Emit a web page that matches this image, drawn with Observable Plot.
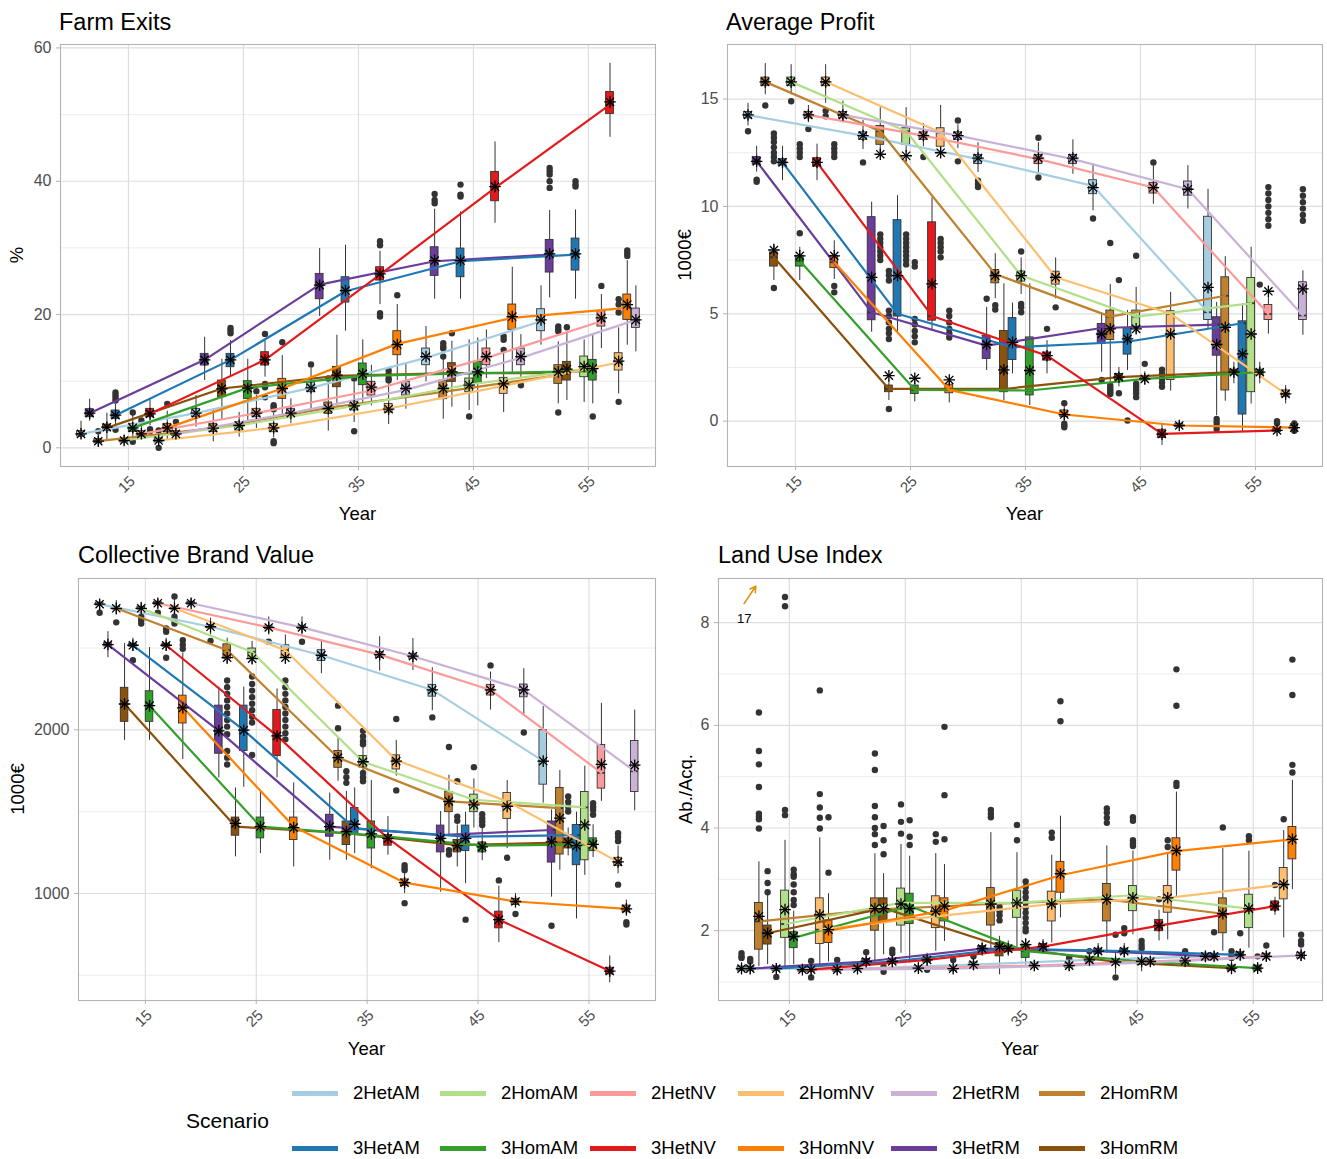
<!DOCTYPE html>
<html>
<head>
<meta charset="utf-8">
<script src="https://cdn.jsdelivr.net/npm/d3@7"></script>
<script src="https://cdn.jsdelivr.net/npm/@observablehq/plot@0.6"></script>
<style>
  html, body { margin: 0; padding: 0; background: #fff; }
  #root { position: relative; width: 1327px; height: 1159px; overflow: hidden; font-family: "Liberation Sans", Arial, sans-serif; color: #000; }
  .t { position: absolute; white-space: nowrap; }
  .title { font-size: 23.5px; line-height: 23.5px; }
  .axt { font-size: 18.5px; line-height: 18.5px; }
  .ylab { transform: translate(-50%, -50%) rotate(-90deg); }
  .xlab { transform: translateX(-50%); }
  .plotbox { position: absolute; }
  .sw { position: absolute; width: 46px; height: 5px; }
  .lt { position: absolute; font-size: 18.5px; line-height: 18.5px; white-space: nowrap; }
</style>
</head>
<body>
<div id="root">
  <div class="t title" style="left:59px;top:10.5px">Farm Exits</div>
  <div class="t title" style="left:726px;top:10.5px">Average Profit</div>
  <div class="t title" style="left:78px;top:544px">Collective Brand Value</div>
  <div class="t title" style="left:718px;top:544px">Land Use Index</div>
  <div class="t axt xlab" style="left:357.5px;top:505px">Year</div>
  <div class="t axt xlab" style="left:1024.5px;top:505px">Year</div>
  <div class="t axt xlab" style="left:366.5px;top:1040px">Year</div>
  <div class="t axt xlab" style="left:1020px;top:1040px">Year</div>
  <div class="t axt ylab" style="left:17px;top:255px">%</div>
  <div class="t axt ylab" style="left:685px;top:255px">1000€</div>
  <div class="t axt ylab" style="left:18px;top:789px">1000€</div>
  <div class="t axt ylab" style="left:686px;top:789px">Ab./Acq.</div>
  <div class="t" style="left:186px;top:1110px;font-size:21px;line-height:21px">Scenario</div>
</div>
<script>
// ---------------- data ----------------
const scenarios = ["2HetAM","2HomAM","2HetNV","2HomNV","2HetRM","2HomRM","3HetAM","3HomAM","3HetNV","3HomNV","3HetRM","3HomRM"];
const scenarioColors = ["#A6CEE3","#B2DF8A","#FB9A99","#FDBF6F","#CAB2D6","#BF812D","#1F78B4","#33A02C","#E31A1C","#FF7F00","#6A3D9A","#8C510A"];
const dodgeOrder = ["2HetAM","3HetRM","2HomRM","3HomRM","3HetAM","2HomAM","3HomAM","2HetNV","3HetNV","2HomNV","3HomNV","2HetRM"];
const yearTicks = [15, 25, 35, 45, 55];

const exitsTicks = [0, 20, 40, 60];
const exitsMinor = [10, 30, 50];
const profitTicks = [0, 5, 10, 15];
const profitMinor = [2.5, 7.5, 12.5];
const brandTicks = [1000, 2000];
const brandMinor = [500, 1500, 2500];
const landTicks = [2, 4, 6, 8];
const landMinor = [1, 3, 5, 7];

// [scenario, year, whiskerLow, q1, median, q3, whiskerHigh, mean]
const exitsBoxes = [
  ["2HetAM",15,1.3,1.7,2.1,2.5,4.0,2.1],["3HetRM",15,4.0,4.6,5.2,5.8,7.3,5.2],["2HomRM",15,0.3,0.7,1.0,1.3,2.0,1.0],
  ["3HomRM",15,1.2,2.5,3.0,3.5,5.2,3.1],["3HetAM",15,3.5,4.35,4.9,5.6,6.5,4.9],["2HomAM",15,0.4,0.8,1.1,1.4,1.9,1.1],
  ["3HomAM",15,1.1,2.4,3.0,3.6,4.9,3.0],["2HetNV",15,1.4,1.8,2.1,2.5,3.4,2.1],["3HetNV",15,3.3,4.6,5.1,5.85,7.3,5.1],
  ["2HomNV",15,0.4,0.8,1.1,1.4,2.0,1.1],["3HomNV",15,1.2,2.4,3.0,3.6,5.5,3.0],["2HetRM",15,1.4,1.8,2.1,2.5,3.5,2.1],
  ["2HetAM",25,3.1,4.6,5.2,5.85,7.85,5.2],["3HetRM",25,10.1,12.35,13.2,14.1,16.6,13.2],["2HomRM",25,0.9,2.35,2.95,3.6,5.8,2.95],
  ["3HomRM",25,4.1,7.6,8.9,10.1,13.3,8.85],["3HetAM",25,10.6,12.1,13.2,14.1,16.1,13.2],["2HomAM",25,1.6,2.6,3.35,3.85,5.3,3.35],
  ["3HomAM",25,4.1,7.35,9.0,10.0,13.3,8.95],["2HetNV",25,2.9,4.6,5.2,5.85,7.85,5.2],["3HetNV",25,10.6,12.35,13.2,14.35,16.2,13.2],
  ["2HomNV",25,1.5,2.35,3.0,3.6,5.2,3.0],["3HomNV",25,4.35,7.35,8.9,10.35,13.85,8.9],["2HetRM",25,3.6,4.6,5.2,5.85,7.35,5.2],
  ["2HetAM",35,5.8,8.35,9.0,9.8,11.9,9.0],["3HetRM",35,19.7,22.3,24.5,26.1,29.9,24.4],["2HomRM",35,2.5,5.1,6.0,6.8,9.8,5.9],
  ["3HomRM",35,6.3,9.1,10.8,12.15,16.9,10.9],["3HetAM",35,17.5,21.8,23.5,25.6,30.4,23.6],["2HomAM",35,3.8,5.6,6.3,6.9,9.8,6.3],
  ["3HomAM",35,6.6,9.4,10.8,12.65,16.2,11.1],["2HetNV",35,6.3,7.85,8.6,9.9,12.4,9.1],["3HetNV",35,21.5,25.1,26.0,27.1,29.5,26.1],
  ["2HomNV",35,3.5,5.3,5.9,6.6,9.5,5.8],["3HomNV",35,10.1,13.9,15.6,17.5,21.5,15.5],["2HetRM",35,5.8,7.85,8.7,9.9,12.5,8.9],
  ["2HetAM",45,9.9,12.4,13.5,14.9,18.2,13.7],["3HetRM",45,22.3,25.8,28.0,30.1,35.8,28.1],["2HomRM",45,4.3,7.3,8.4,10.1,13.3,8.9],
  ["3HomRM",45,6.1,9.9,11.2,12.7,16.0,11.4],["3HetAM",45,22.3,25.6,28.0,29.9,35.4,28.1],["2HomAM",45,5.6,8.35,9.5,10.4,16.2,9.4],
  ["3HomAM",45,6.3,9.6,11.2,12.9,16.5,11.4],["2HetNV",45,10.4,12.4,13.5,14.9,17.7,13.7],["3HetNV",45,33.7,37.0,39.0,41.4,45.9,39.2],
  ["2HomNV",45,5.3,8.1,9.3,10.5,14.4,9.6],["3HomNV",45,11.1,17.7,19.5,21.5,27.1,19.7],["2HetRM",45,10.4,12.4,13.5,14.9,17.0,13.7],
  ["2HetAM",55,15.4,17.5,19.0,20.8,24.3,19.2],["3HetRM",55,22.5,26.3,29.0,31.2,35.6,29.1],["2HomRM",55,6.6,9.6,10.9,12.4,15.9,11.4],
  ["3HomRM",55,7.1,10.1,11.2,12.9,17.2,11.8],["3HetAM",55,22.3,26.6,29.0,31.4,35.7,29.1],["2HomAM",55,6.8,10.6,11.8,13.7,16.2,12.2],
  ["3HomAM",55,6.6,10.1,11.5,13.2,17.0,11.9],["2HetNV",55,14.9,18.2,19.0,20.5,23.0,19.5],["3HetNV",55,46.6,50.1,51.5,53.4,57.7,51.9],
  ["2HomNV",55,8.1,11.6,12.8,14.2,18.0,13.0],["3HomNV",55,15.4,19.2,21.0,23.0,28.1,21.5],["2HetRM",55,14.4,18.0,19.2,20.9,24.3,19.2]
];
// [scenario, year, ...outliers]
const exitsOutliers = [
  ["2HomRM",15,2.5],["3HetAM",15,8.3,7.9,7.5,7.1,2.7],["3HomAM",15,5.3,0.9],["2HetNV",15,4.1],["3HetNV",15,2.8,2.5],
  ["2HomNV",15,2.6,0.0],["3HomNV",15,6.6],["2HetRM",15,3.9],
  ["3HetAM",25,18.0,17.6,17.2],["2HetNV",25,8.5],["3HetNV",25,17.1,9.6,9.1,7.6],["2HomNV",25,6.4,6.1,5.8,1.0,0.7],["3HomNV",25,15.85],
  ["2HetAM",35,12.5],["2HomRM",35,10.4],["2HomAM",35,10.4,2.5],["3HetNV",35,31.0,30.4,20.2,19.7],["2HomNV",35,11.6,11.0,10.4,10.1],["3HomNV",35,22.9],
  ["3HetRM",45,38.1,37.2,36.7],["2HomRM",45,15.7,15.2,14.9,13.7],["3HomRM",45,17.2],["3HetAM",45,39.5,38.0,37.7],["2HomAM",45,4.7],
  ["2HomNV",45,16.7,16.2,14.7],["2HetRM",45,9.4],
  ["3HetRM",55,42.0,41.5,41.0,40.0,39.0],["2HomRM",55,18.2,17.8,17.5,5.3],["3HomRM",55,18.1],["3HetAM",55,40.0,39.5,39.2],
  ["3HomAM",55,4.7],["2HetNV",55,24.3],["2HomNV",55,22.3,21.5,20.3,6.9],["3HomNV",55,29.6,29.2,28.8]
];

const profitBoxes = [
  ["2HetAM",15,13.75,14.1,14.25,14.4,14.8,14.26],["3HetRM",15,11.6,11.95,12.1,12.3,12.8,12.1],["2HomRM",15,15.2,15.6,15.8,16.0,16.65,15.8],
  ["3HomRM",15,6.55,7.2,7.63,7.86,8.25,7.97],["3HetAM",15,11.2,11.9,12.05,12.2,12.8,12.05],["2HomAM",15,15.2,15.6,15.8,16.0,16.6,15.8],
  ["3HomAM",15,6.55,7.2,7.47,7.7,8.1,7.7],["2HetNV",15,13.9,14.1,14.26,14.4,14.7,14.26],["3HetNV",15,11.2,11.85,12.05,12.25,12.9,12.05],
  ["2HomNV",15,14.8,15.6,15.8,16.0,16.6,15.8],["3HomNV",15,6.6,7.13,7.4,7.7,8.4,7.7],["2HetRM",15,13.9,14.1,14.26,14.4,14.9,14.26],
  ["2HetAM",25,12.65,13.1,13.3,13.45,14.0,13.3],["3HetRM",25,4.14,4.7,5.07,9.5,10.2,6.7],["2HomRM",25,12.4,12.87,13.5,13.75,14.6,12.43],
  ["3HomRM",25,0.96,1.35,1.5,1.66,1.9,2.12],["3HetAM",25,4.06,4.87,5.0,9.36,10.5,6.78],["2HomAM",25,12.5,12.87,13.5,13.64,14.6,12.36],
  ["3HomAM",25,0.9,1.27,1.46,1.66,1.95,2.0],["2HetNV",25,12.78,13.1,13.3,13.45,13.86,13.3],["3HetNV",25,4.2,4.68,4.9,9.26,10.4,6.39],
  ["2HomNV",25,12.6,12.78,13.44,13.64,14.7,12.5],["3HomNV",25,0.85,1.3,1.46,1.7,1.95,1.92],["2HetRM",25,12.7,13.1,13.3,13.45,13.8,13.3],
  ["2HetAM",35,11.58,11.97,12.2,12.4,12.97,12.25],["3HetRM",35,2.36,2.9,3.52,3.98,5.3,3.57],["2HomRM",35,5.7,6.42,6.85,7.04,7.8,6.78],
  ["3HomRM",35,0.96,1.35,1.5,4.2,6.4,2.39],["3HetAM",35,2.2,2.85,3.44,4.8,5.5,3.67],["2HomAM",35,5.9,6.5,6.78,6.97,7.6,6.78],
  ["3HomAM",35,0.73,1.2,1.43,3.9,6.4,2.36],["2HetNV",35,11.58,11.97,12.2,12.4,12.97,12.25],["3HetNV",35,2.2,2.82,3.05,3.2,3.75,3.05],
  ["2HomNV",35,5.7,6.36,6.7,6.96,7.6,6.7],["3HomNV",35,0.0,0.19,0.31,0.5,0.7,0.31],["2HetRM",35,11.5,11.97,12.2,12.4,13.1,12.25],
  ["2HetAM",45,9.8,10.57,10.96,11.22,12.0,10.88],["3HetRM",45,2.28,3.6,4.34,4.53,5.0,4.06],["2HomRM",45,1.75,3.78,4.87,5.15,6.36,4.3],
  ["3HomRM",45,1.6,1.9,2.05,2.2,2.5,2.05],["3HetAM",45,2.36,3.1,3.7,4.34,5.15,3.83],["2HomAM",45,4.06,4.34,4.87,5.15,6.23,4.3],
  ["3HomAM",45,1.7,1.9,1.97,2.05,2.3,1.97],["2HetNV",45,10.1,10.6,10.88,11.1,11.9,10.88],["3HetNV",45,-1.13,-0.78,-0.59,-0.4,-0.12,-0.6],
  ["2HomNV",45,1.4,1.92,5.0,5.12,6.0,4.06],["3HomNV",45,-0.35,-0.28,-0.2,-0.12,-0.05,-0.2],["2HetRM",45,9.88,10.5,10.8,11.16,11.9,10.8],
  ["2HetAM",55,4.3,4.71,5.07,9.52,10.8,6.23],["3HetRM",55,0.26,3.05,4.5,4.84,5.53,3.57],["2HomRM",55,0.93,1.43,5.84,6.7,7.66,4.37],
  ["3HomRM",55,1.74,2.15,2.28,2.4,2.74,2.28],["3HetAM",55,-0.47,0.31,4.56,4.65,5.46,3.13],["2HomAM",55,0.8,1.35,5.49,6.67,8.1,4.06],
  ["3HomAM",55,1.74,2.15,2.28,2.4,2.74,2.28],["2HetNV",55,4.06,4.71,4.99,5.41,5.77,6.05],["3HetNV",55,-0.55,-0.5,-0.43,-0.35,-0.3,-0.43],
  ["2HomNV",55,0.8,1.12,1.27,1.43,1.66,1.27],["3HomNV",55,-0.45,-0.38,-0.3,-0.22,-0.15,-0.3],["2HetRM",55,4.0,4.71,4.92,6.47,7.0,6.16]
];
const profitOutliers = [
  ["2HetAM",15,13.5],["3HetRM",15,11.25,11.15],["2HomRM",15,14.7],["3HomRM",15,13.4,13.2,13.0,12.75,12.5,12.3,12.1,6.2],
  ["2HomAM",15,14.9],["3HomAM",15,8.75,12.9,12.7,12.5,12.3],["2HetNV",15,13.6],["2HomNV",15,14.45,14.2],
  ["3HomNV",15,6.3,6.0,12.9,12.7,12.5,12.3],
  ["2HetAM",25,12.05],["2HomRM",25,8.7,8.5,8.3,8.1,7.9,7.7,7.5],["3HomRM",25,0.57,7.0,6.8,6.55,5.15,4.9,4.6,4.3,4.1,3.83],
  ["2HomAM",25,8.7,8.5,8.3,8.1,7.9,7.7,7.5,7.3],["3HomAM",25,7.4,7.2,4.76,4.5,4.2,3.95,3.67],["2HetNV",25,12.3],
  ["2HomNV",25,8.48,8.3,8.1,7.9,7.63],["3HomNV",25,5.15,4.9,4.6,4.3,4.1,3.9],["2HetRM",25,14.0,12.1],
  ["2HetAM",35,11.2,11.05,10.9],["3HetRM",35,5.7],["2HomRM",35,5.4,5.2],["2HomAM",35,7.9,5.46,5.3,5.07],
  ["2HetNV",35,13.2,11.35],["3HetNV",35,4.3],["2HomNV",35,5.3],["3HomNV",35,0.84,-0.12,-0.2,-0.28],
  ["2HetAM",45,9.44],["3HetRM",45,1.92],["2HomRM",45,8.3,1.66,1.55,1.45,1.35,1.27],["3HomRM",45,6.57,1.3],["3HetAM",45,0.03],
  ["2HomAM",45,7.7,1.74,1.6,1.45,1.3,1.12],["3HomAM",45,2.67],["2HetNV",45,12.05],["3HetNV",45,2.4,2.2,2.0,1.8,1.6],
  ["3HetRM",55,0.1,-0.05,-0.2,-0.36],["3HomAM",55,6.36],["2HetNV",55,10.9,10.6,10.3,10.0,9.7,9.4,9.1],["3HetNV",55,0.0,-0.1],
  ["3HomNV",55,-0.1,-0.45],["2HetRM",55,10.8,10.5,10.2,9.9,9.6,9.33]
];

const brandBoxes = [
  ["2HetAM",15,2740,2760,2768,2778,2795,2768],["3HetRM",15,2441,2510,2521,2532,2600,2521],["2HomRM",15,2700,2735,2743,2752,2790,2743],
  ["3HomRM",15,1936,2049,2158,2257,2528,2158],["3HetAM",15,2480,2508,2517,2527,2560,2517],["2HomAM",15,2700,2735,2743,2752,2780,2743],
  ["3HomAM",15,1936,2049,2148,2236,2503,2148],["2HetNV",15,2745,2765,2774,2783,2795,2774],["3HetNV",15,2480,2508,2517,2527,2560,2517],
  ["2HomNV",15,2700,2735,2743,2752,2800,2743],["3HomNV",15,1819,2039,2138,2209,2470,2134],["2HetRM",15,2750,2765,2774,2783,2800,2774],
  ["2HetAM",25,2579,2620,2630,2640,2682,2630],["3HetRM",25,1706,1854,1994,2148,2261,1994],["2HomRM",25,2400,2435,2487,2523,2560,2441],
  ["3HomRM",25,1224,1353,1409,1464,1645,1429],["3HetAM",25,1649,1871,1998,2148,2261,1998],["2HomAM",25,2400,2435,2476,2497,2540,2435],
  ["3HomAM",25,1244,1337,1409,1464,1620,1409],["2HetNV",25,2579,2615,2626,2636,2690,2626],["3HetNV",25,1706,1840,1963,2121,2250,1963],
  ["2HomNV",25,2400,2441,2487,2517,2580,2441],["3HomNV",25,1162,1327,1409,1464,1676,1403],["2HetRM",25,2579,2615,2626,2636,2690,2626],
  ["2HetAM",35,2343,2421,2456,2487,2544,2456],["3HetRM",35,1203,1347,1409,1481,1614,1409],["2HomRM",35,1686,1768,1830,1871,1953,1830],
  ["3HomRM",35,1203,1296,1368,1440,1624,1378],["3HetAM",35,1244,1357,1398,1522,1645,1423],["2HomAM",35,1745,1770,1805,1840,1900,1805],
  ["3HomAM",35,1152,1275,1357,1440,1690,1364],["2HetNV",35,2359,2440,2460,2475,2569,2460],["3HetNV",35,1234,1292,1337,1357,1470,1337],
  ["2HomNV",35,1717,1758,1815,1844,1936,1809],["3HomNV",35,1000,1045,1066,1086,1120,1066],["2HetRM",35,2363,2435,2450,2465,2558,2450],
  ["2HetAM",45,2117,2203,2244,2275,2380,2244],["3HetRM",45,1008,1251,1357,1415,1501,1337],["2HomRM",45,1357,1497,1563,1620,1723,1563],
  ["3HomRM",45,1162,1251,1296,1327,1419,1292],["3HetAM",45,1060,1259,1347,1415,1497,1337],["2HomAM",45,1400,1497,1573,1604,1700,1542],
  ["3HomAM",45,1200,1251,1292,1312,1400,1285],["2HetNV",45,2121,2210,2244,2275,2353,2244],["3HetNV",45,700,787,840,889,1045,840],
  ["2HomNV",45,1275,1456,1563,1614,1690,1532],["3HomNV",45,910,930,951,967,1000,951],["2HetRM",45,2092,2199,2244,2277,2374,2244],
  ["2HetAM",55,1552,1665,1809,1998,2142,1809],["3HetRM",55,978,1189,1388,1440,1511,1316],["2HomRM",55,1142,1238,1522,1645,1752,1460],
  ["3HomRM",55,1230,1275,1312,1337,1400,1312],["3HetAM",55,844,1173,1357,1419,1497,1292],["2HomAM",55,1111,1203,1526,1620,1778,1419],
  ["3HomAM",55,1220,1259,1300,1337,1420,1300],["2HetNV",55,1563,1641,1737,1908,2162,1789],["3HetNV",55,454,505,526,546,618,526],
  ["2HomNV",55,1120,1169,1193,1218,1290,1193],["3HomNV",55,860,885,906,926,960,906],["2HetRM",55,1505,1620,1747,1932,2121,1784]
];
const brandOutliers = [
  ["2HetAM",15,2716],["2HomRM",15,2657],["3HetAM",15,2425],["2HomAM",15,2692,2670,2650],["2HetNV",15,2716],
  ["3HetNV",15,2620,2600,2441],["2HomNV",15,2815,2692,2670,2650],["3HomNV",15,2548,2520,2495],
  ["2HetAM",25,2544],["2HomRM",25,2302,2260,2220,2180,2140,2100,2060,2020,1973,1871,1830,1788],
  ["2HomAM",25,2326,2280,2240,2200,2160,2120,2080,2045,1846],["2HetNV",25,2538],
  ["2HomNV",25,2302,2260,2220,2180,2140,2100,2060,2020,1980,1942],["2HetRM",25,2538],
  ["2HomRM",35,2148,2010],["3HomRM",35,1747,1710,1676],["2HomAM",35,1994,1960,1930,1912,1737,1710,1686],
  ["2HomNV",35,2066,1630],["3HomNV",35,1173,1155,1142,941],
  ["2HetAM",45,2076],["2HomRM",45,1895,1265,1238],["3HomRM",45,1686,1470,1444],["3HetAM",45,840],["2HomAM",45,1772],
  ["3HomAM",45,1485,1460,1440,1419],["2HetNV",45,2394],["3HetNV",45,1080],["2HomNV",45,1218],["3HomNV",45,875],["2HetRM",45,1984],
  ["3HetRM",55,803],["3HomRM",55,1593,1560,1530,1501],["3HomAM",55,1552,1530,1510,1481],["2HomNV",55,1368,1345,1320,1054],
  ["3HomNV",55,824,810]
];

const landBoxes = [
  ["2HetAM",15,1.15,1.22,1.26,1.3,1.38,1.26],["3HetRM",15,1.15,1.22,1.26,1.3,1.37,1.26],["2HomRM",15,1.3,1.63,2.18,2.54,3.34,2.28],
  ["3HomRM",15,1.34,1.73,1.95,2.1,2.7,1.95],["3HetAM",15,1.15,1.22,1.26,1.3,1.36,1.26],["2HomAM",15,1.27,1.86,2.13,2.78,3.76,2.41],
  ["3HomAM",15,1.34,1.66,1.86,1.97,2.38,1.89],["2HetNV",15,1.15,1.2,1.24,1.28,1.35,1.24],["3HetNV",15,1.15,1.2,1.24,1.28,1.35,1.24],
  ["2HomNV",15,1.3,1.74,2.02,2.63,3.81,2.31],["3HomNV",15,1.39,1.76,2.0,2.2,2.72,2.02],["2HetRM",15,1.15,1.2,1.24,1.28,1.35,1.24],
  ["2HetAM",25,1.18,1.22,1.26,1.3,1.36,1.26],["3HetRM",25,1.25,1.35,1.4,1.45,1.55,1.4],["2HomRM",25,1.37,2.0,2.41,2.63,3.5,2.43],
  ["3HomRM",25,1.53,2.15,2.44,2.63,3.11,2.43],["3HetAM",25,1.28,1.35,1.4,1.45,1.52,1.4],["2HomAM",25,1.56,2.1,2.54,2.82,3.68,2.52],
  ["3HomAM",25,1.37,2.13,2.48,2.72,3.45,2.43],["2HetNV",25,1.18,1.23,1.27,1.31,1.38,1.27],["3HetNV",25,1.3,1.38,1.43,1.48,1.56,1.43],
  ["2HomNV",25,1.6,2.05,2.28,2.67,3.5,2.38],["3HomNV",25,1.79,2.18,2.39,2.63,3.29,2.48],["2HetRM",25,1.18,1.22,1.26,1.3,1.36,1.26],
  ["2HetAM",35,1.22,1.3,1.34,1.38,1.45,1.34],["3HetRM",35,1.5,1.6,1.65,1.7,1.78,1.65],["2HomRM",35,1.6,2.1,2.52,2.83,3.91,2.52],
  ["3HomRM",35,1.14,1.5,1.71,1.76,1.89,1.69],["3HetAM",35,1.5,1.58,1.65,1.7,1.8,1.65],["2HomAM",35,1.66,2.25,2.54,2.78,3.52,2.54],
  ["3HomAM",35,1.33,1.47,1.6,1.73,1.85,1.73],["2HetNV",35,1.22,1.28,1.32,1.36,1.42,1.32],["3HetNV",35,1.55,1.63,1.69,1.74,1.83,1.69],
  ["2HomNV",35,1.76,2.18,2.52,2.76,3.47,2.52],["3HomNV",35,2.25,2.74,3.08,3.34,4.23,3.11],["2HetRM",35,1.22,1.28,1.32,1.36,1.42,1.32],
  ["2HetAM",45,1.3,1.38,1.43,1.48,1.55,1.43],["3HetRM",45,1.45,1.55,1.6,1.65,1.75,1.6],["2HomRM",45,1.56,2.18,2.61,2.91,3.65,2.61],
  ["3HomRM",45,1.15,1.33,1.39,1.45,1.6,1.39],["3HetAM",45,1.45,1.55,1.6,1.65,1.75,1.6],["2HomAM",45,1.92,2.38,2.69,2.87,3.55,2.64],
  ["3HomAM",45,1.2,1.33,1.4,1.45,1.55,1.4],["2HetNV",45,1.3,1.36,1.4,1.44,1.5,1.4],["3HetNV",45,1.8,1.99,2.1,2.21,2.4,2.1],
  ["2HomNV",45,1.82,2.35,2.64,2.87,3.5,2.64],["3HomNV",45,2.67,3.17,3.55,3.8,4.7,3.56],["2HetRM",45,1.28,1.36,1.41,1.46,1.52,1.41],
  ["2HetAM",55,1.37,1.45,1.5,1.55,1.6,1.5],["3HetRM",55,1.4,1.46,1.5,1.55,1.6,1.5],["2HomRM",55,1.6,1.95,2.33,2.63,3.6,2.33],
  ["3HomRM",55,1.14,1.22,1.27,1.32,1.4,1.27],["3HetAM",55,1.4,1.47,1.53,1.58,1.65,1.53],["2HomAM",55,1.66,2.05,2.43,2.7,3.55,2.43],
  ["3HomAM",55,1.15,1.22,1.27,1.32,1.38,1.27],["2HetNV",55,1.4,1.46,1.5,1.55,1.6,1.5],["3HetNV",55,2.3,2.39,2.48,2.57,2.65,2.48],
  ["2HomNV",55,1.86,2.61,2.9,3.22,3.95,2.9],["3HomNV",55,2.8,3.39,3.78,4.02,4.93,3.78],["2HetRM",55,1.4,1.46,1.52,1.57,1.65,1.52]
];
const landOutliers = [
  ["2HetAM",15,1.56,1.5,1.47],["3HetRM",15,1.45,1.4],["2HomRM",15,6.25,5.5,5.24,4.8,4.28,4.22,4.17,3.99],["3HomRM",15,3.16,2.93,2.75],
  ["3HetAM",15,1.1],["2HomAM",15,8.5,8.32,4.35,4.25],["3HomAM",15,3.19,3.1,3.05,2.9,2.75,2.6,2.5],["3HetNV",15,1.41,1.09],
  ["2HomNV",15,6.68,4.66,4.4,4.2,3.99],["3HomNV",15,4.21,3.13],["2HetRM",15,1.43],
  ["3HetRM",25,1.58],["2HomRM",25,5.45,5.13,4.43,4.21,4.0,3.88,3.67],["3HomRM",25,4.04,3.76,3.49,1.3,1.2],["3HetAM",25,1.63,1.56],
  ["2HomAM",25,4.46,4.12,3.89],["3HomAM",25,4.15,3.83,3.67],["3HetNV",25,1.24],["2HomNV",25,3.88,3.73],["3HomNV",25,5.97,4.64,3.78],
  ["2HetRM",25,1.43],
  ["2HetAM",35,1.5],["2HomRM",35,4.35,4.28,4.21],["3HomRM",35,2.46,2.38,2.3,2.2],["2HomAM",35,4.06,3.76],
  ["3HomAM",35,2.96,2.85,2.75,2.65,2.55,2.45,2.35,2.25,2.15,2.05,1.99],["2HomNV",35,3.91,3.81],["3HomNV",35,6.47,6.08],["2HetRM",35,1.48,1.45],
  ["2HetAM",45,1.6],["2HomRM",45,4.38,4.3,4.2,4.1],["3HomRM",45,1.92,1.09],["3HetAM",45,2.05,1.95],["2HomAM",45,4.21,4.14,3.76,3.7,3.65],
  ["3HomAM",45,1.8,1.72,1.66],["3HetNV",45,2.61],["2HomNV",45,3.76,3.63],["3HomNV",45,7.09,6.38,4.88,4.82],["2HetRM",45,1.6,1.55],
  ["3HetRM",55,1.97],["2HomRM",55,4.01],["3HomRM",55,1.6,1.52,1.47],["3HetAM",55,1.95],["2HomAM",55,3.84,3.76],["3HomAM",55,1.5],
  ["2HetNV",55,1.71],["3HetNV",55,2.89],["2HomNV",55,4.17],["3HomNV",55,7.28,6.59,5.23,5.08],["2HetRM",55,1.92,1.8,1.73]
];
// off-scale outlier note in the Land Use panel: arrow from (x1,y1) to (x2,y2), label at (lx,ly)
const landNotes = [{x1: 11.1, y1: 8.37, x2: 12.1, y2: 8.71, lx: 11.1, ly: 8.08, label: "17"}];

// ---------------- layout ----------------
const DODGE = 0.75, HALF_BOX = 0.34;
const xPos = (s, yr) => yr + (dodgeOrder.indexOf(s) - 5.5) * DODGE;

const panels = [
  {boxes: exitsBoxes, outs: exitsOutliers, yTicks: exitsTicks, yMinor: exitsMinor, yDomain: [-2.8, 60.52], xDomain: [9.09, 60.83],
   left: 0, top: 40, width: 663, height: 490, mt: 4, mb: 64, ml: 60, mr: 8},
  {boxes: profitBoxes, outs: profitOutliers, yTicks: profitTicks, yMinor: profitMinor, yDomain: [-2.11, 17.54], xDomain: [9.09, 60.83],
   left: 663, top: 40, width: 664, height: 490, mt: 4, mb: 64, ml: 64, mr: 5},
  {boxes: brandBoxes, outs: brandOutliers, yTicks: brandTicks, yMinor: brandMinor, yDomain: [346, 2925], xDomain: [8.97, 61.0],
   left: 0, top: 572, width: 663, height: 490, mt: 6, mb: 62, ml: 78, mr: 8},
  {boxes: landBoxes, outs: landOutliers, yTicks: landTicks, yMinor: landMinor, yDomain: [0.64, 8.86], xDomain: [8.89, 60.97],
   left: 663, top: 572, width: 664, height: 490, mt: 6, mb: 62, ml: 55, mr: 5, notes: landNotes}
];

const root = document.getElementById("root");
const plainNum = d => String(d);

for (const p of panels) {
  const rows = p.boxes.map(([s, yr, lo, q1, med, q3, hi, mean]) => ({s, yr, x: xPos(s, yr), lo, q1, med, q3, hi, mean}))
    .sort((a, b) => a.x - b.x);
  const outs = p.outs.flatMap(([s, yr, ...vals]) => vals.map(v => ({s, x: xPos(s, yr), v})));
  const marks = [
    Plot.ruleY(p.yMinor, {stroke: "#EBEBEB", strokeWidth: 0.9}),
    Plot.ruleY(p.yTicks, {stroke: "#DEDEDE", strokeWidth: 1.2}),
    Plot.ruleX(yearTicks, {stroke: "#DEDEDE", strokeWidth: 1.2}),
    Plot.ruleX(rows, {x: "x", y1: "lo", y2: "hi", stroke: "#333333", strokeWidth: 1}),
    Plot.rect(rows, {x1: d => d.x - HALF_BOX, x2: d => d.x + HALF_BOX, y1: "q1", y2: "q3", fill: "s", stroke: "#333333", strokeWidth: 0.9}),
    Plot.ruleY(rows, {y: "med", x1: d => d.x - HALF_BOX, x2: d => d.x + HALF_BOX, stroke: "#333333", strokeWidth: 1.7}),
    Plot.dot(outs, {x: "x", y: "v", r: 3.2, fill: "#333333", stroke: null}),
    Plot.line(rows, {x: "x", y: "med", z: "s", stroke: "s", strokeWidth: 2.2}),
    Plot.dot(rows, {x: "x", y: "mean", symbol: "plus", r: 3.8, stroke: "#000", strokeWidth: 1.3}),
    Plot.dot(rows, {x: "x", y: "mean", symbol: "times", r: 3.8, stroke: "#000", strokeWidth: 1.3}),
    Plot.axisX(yearTicks, {anchor: "bottom", tickRotate: -45, textAnchor: "end", lineAnchor: "top", tickSize: 4, tickPadding: 4,
      stroke: "#B3B3B3", fill: "#4D4D4D", fontSize: 15, label: null, tickFormat: plainNum}),
    Plot.axisY(p.yTicks, {anchor: "left", tickSize: 4, tickPadding: 5, stroke: "#B3B3B3", fill: "#4D4D4D", fontSize: 16, label: null, tickFormat: plainNum}),
    Plot.frame({stroke: "#B3B3B3", strokeWidth: 1.1})
  ];
  if (p.notes) {
    marks.push(Plot.arrow(p.notes, {x1: "x1", y1: "y1", x2: "x2", y2: "y2", stroke: "#D9950B", strokeWidth: 1.6, headLength: 6, bend: false}));
    marks.push(Plot.text(p.notes, {x: "lx", y: "ly", text: "label", fontSize: 13, fill: "#000"}));
  }
  const chart = Plot.plot({
    width: p.width, height: p.height,
    marginTop: p.mt, marginBottom: p.mb, marginLeft: p.ml, marginRight: p.mr,
    x: {type: "linear", domain: p.xDomain},
    y: {type: "linear", domain: p.yDomain},
    color: {type: "categorical", domain: scenarios, range: scenarioColors},
    style: {fontFamily: "Liberation Sans, Arial, sans-serif", background: "white", overflow: "visible"},
    marks
  });
  const holder = document.createElement("div");
  holder.className = "plotbox";
  holder.style.left = p.left + "px";
  holder.style.top = p.top + "px";
  holder.appendChild(chart);
  root.appendChild(holder);
}

// keep text overlays above charts
for (const el of Array.from(root.querySelectorAll(".t"))) { el.style.zIndex = 2; }

// ---------------- legend ----------------
const legendCols = [292, 440, 590, 738, 891, 1039];
const legendRows = [1093, 1148];
scenarios.forEach((s, i) => {
  const col = i % 6, row = Math.floor(i / 6);
  const sw = document.createElement("div");
  sw.className = "sw";
  sw.style.left = legendCols[col] + "px";
  sw.style.top = (legendRows[row] - 2.5) + "px";
  sw.style.background = scenarioColors[i];
  root.appendChild(sw);
  const tx = document.createElement("div");
  tx.className = "lt";
  tx.textContent = s;
  tx.style.left = (legendCols[col] + 61) + "px";
  tx.style.top = (legendRows[row] - 9.5) + "px";
  root.appendChild(tx);
});
</script>
</body>
</html>
